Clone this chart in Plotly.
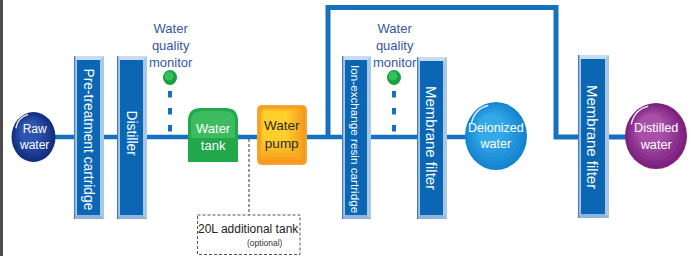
import plotly.graph_objects as go

# ---- content (labels) ----
cartridge_labels = ["Pre-treatment cartridge", "Distiller", "Ion-exchange resin cartridge",
                    "Membrane filter", "Membrane filter"]
circle_labels = ["Raw<br>water", "Deionized<br>water", "Distilled<br>water"]
monitor_label = "Water<br>quality<br>monitor"
tank_label = "Water<br>tank"
pump_label = "Water<br>pump"
extra_tank_label = "20L additional tank"
extra_tank_note = "(optional)"

# ---- layout geometry / styles (pixel coordinates) ----
W, H = 691, 256
PIPE_Y = 137
cartridge_x = [(74, 104), (117, 147), (342, 371), (417, 447), (578, 609)]
cartridge_y = [(56, 219), (56, 219), (56, 219), (57, 219), (55, 218)]
cartridge_font = [13.8, 13.8, 11.7, 15, 15]
cartridge_text_y = [139, 133, 139, 137.5, 137]
circle_geo = [(33.5, 137, 22, 25), (496, 136, 31, 34), (656, 136, 31, 33)]
circle_font = [12, 12.5, 12.7]
circle_cols = [("#132f80", "#2d55b0"), ("#1585d0", "#35a8e8"), ("#7d2080", "#a850a8")]
monitor_x = [170, 394]

PIPE = "#1670bd"
DARK = "#0b67b4"
LIGHT = "#a9c8e8"
FONT = "Arial, Liberation Sans, sans-serif"

shapes = []
annotations = []

def line(x0, y0, x1, y1, color=PIPE, width=4.5, dash=None):
    d = dict(type="line", x0=x0, y0=y0, x1=x1, y1=y1, xref="x", yref="y",
             line=dict(color=color, width=width))
    if dash:
        d["line"]["dash"] = dash
    shapes.append(d)

def rect(x0, y0, x1, y1, fill, lc=None, lw=0, dash=None):
    d = dict(type="rect", x0=x0, y0=y0, x1=x1, y1=y1, xref="x", yref="y",
             fillcolor=fill, line=dict(width=lw, color=lc or fill))
    if dash:
        d["line"]["dash"] = dash
    shapes.append(d)

def path(p, fill=None, lc=None, lw=0):
    shapes.append(dict(type="path", path=p, xref="x", yref="y",
                       fillcolor=fill or "rgba(0,0,0,0)",
                       line=dict(width=lw, color=lc or "rgba(0,0,0,0)")))

def circle(cx, cy, rx, ry, fill):
    shapes.append(dict(type="circle", x0=cx - rx, x1=cx + rx, y0=cy - ry, y1=cy + ry,
                       xref="x", yref="y", fillcolor=fill, line=dict(width=0)))

def text(x, y, t, size=12.5, color="white", angle=0, **kw):
    annotations.append(dict(x=x, y=y, xref="x", yref="y", text=t, showarrow=False,
                            textangle=angle, font=dict(family=FONT, size=size, color=color),
                            xanchor="center", yanchor="middle", **kw))

def hexmix(a, b, t):
    a = [int(a[i:i + 2], 16) for i in (1, 3, 5)]
    b = [int(b[i:i + 2], 16) for i in (1, 3, 5)]
    return "#" + "".join(f"{round(a[i] + (b[i] - a[i]) * t):02x}" for i in range(3))

def rrect(a, b, c, d, rr, fill):
    path(f"M {a + rr},{b} L {c - rr},{b} Q {c},{b} {c},{b + rr} L {c},{d - rr} Q {c},{d} {c - rr},{d} "
         f"L {a + rr},{d} Q {a},{d} {a},{d - rr} L {a},{b + rr} Q {a},{b} {a + rr},{b} Z", fill=fill)

# left edge bar
rect(0, 0, 3, H, "#4d4d4d")

# pipes
line(33, PIPE_Y, 496, PIPE_Y)
path(f"M 328,{PIPE_Y} L 328,7.5 L 556,7.5 L 556,{PIPE_Y} L 656,{PIPE_Y}", lc=PIPE, lw=5)

# monitors
for mx in monitor_x:
    line(mx, 91, mx, 134, width=4, dash="6.5px,10.5px")
    circle(mx, 77.5, 7, 7.5, "#1a9e3f")
    circle(mx - 1, 76, 4.5, 4.5, "#35c060")
    text(mx + 1, 45, monitor_label, size=13, color="#3358a8")

# cartridges (bevelled)
for (x0, x1), (y0, y1), lab, fs, ty in zip(cartridge_x, cartridge_y, cartridge_labels,
                                             cartridge_font, cartridge_text_y):
    rect(x0, y0, x1, y1, LIGHT)
    path(f"M {x0},{y0} L {x1},{y0} L {x1 - 4},{y0 + 4} L {x0 + 3},{y0 + 4} Z", fill="#c8dcf1")
    path(f"M {x0},{y1} L {x1},{y1} L {x1 - 4},{y1 - 4} L {x0 + 3},{y1 - 4} Z", fill="#8fb5de")
    rect(x0, y0, x0 + 1.2, y1, "#3f7cc2")
    rect(x0 + 3, y0 + 4, x1 - 4, y1 - 4, DARK)
    text((x0 + x1 - 1) / 2, ty, lab, size=fs, angle=90)

# water tank (rounded top)
tx0, tx1, ty0, ty1, r = 188, 238, 108, 162, 13
path(f"M {tx0},{ty1} L {tx0},{ty0 + r} Q {tx0},{ty0} {tx0 + r},{ty0} L {tx1 - r},{ty0} "
     f"Q {tx1},{ty0} {tx1},{ty0 + r} L {tx1},{ty1} Z", fill="#22a84a")
path(f"M {tx0 + 3},{ty0 + 30} L {tx0 + 3},{ty0 + r} Q {tx0 + 3},{ty0 + 3} {tx0 + r},{ty0 + 3} "
     f"L {tx1 - r},{ty0 + 3} Q {tx1 - 3},{ty0 + 3} {tx1 - 3},{ty0 + r} L {tx1 - 3},{ty0 + 30} Z",
     fill="#3dbb5f")
text(213, 137, tank_label, size=13)

# dashed link to optional tank
line(249, PIPE_Y + 2, 249, 215, color="#333333", width=1, dash="3px,2px")
rect(197.5, 215, 300, 254.5, "white", lc="#555555", lw=1, dash="3px,2px")
text(248.5, 229, extra_tank_label, size=12, color="#222222")
text(265, 242.5, extra_tank_note, size=8.5, color="#333333")

# water pump (rounded rect with pseudo-gradient)
px0, px1, py0, py1, pr = 257, 307, 105, 165, 5
rrect(px0, py0, px1, py1, pr, "#f7a637")
steps = 7
for i in range(steps):
    t = i / (steps - 1)
    col = hexmix("#f59a1d", "#ffcf2c", t)
    a, b = px0 + 1.5 + i * 0.8, py0 + 1.5 + i * 0.8
    c, d = px1 - 1.5 - i * 3.0, py1 - 1.5 - i * 3.4
    rrect(a, b, c, d, max(4.5 - i * 0.4, 2), col)
text(282, 134, pump_label, size=13.5, color="#2b2b2b")

# end-point circles with radial shading
for (cx, cy, rx, ry), (c0, c1), lab, fs in zip(circle_geo, circle_cols, circle_labels, circle_font):
    n = 7
    for i in range(n):
        t = i / (n - 1)
        s = 1 - 0.55 * t
        circle(cx - rx * 0.15 * t, cy - ry * 0.2 * t, rx * s, ry * s, hexmix(c0, c1, t))
    path(f"M {cx - rx * 0.8},{cy - ry * 0.35} Q {cx - rx * 0.7},{cy - ry * 0.8} {cx - rx * 0.25},{cy - ry * 0.9}",
         lc="rgba(255,255,255,0.85)", lw=1.5)
    text(cx, cy, lab, size=fs)

fig = go.Figure()
fig.update_layout(
    width=W, height=H, margin=dict(l=0, r=0, t=0, b=0),
    paper_bgcolor="white", plot_bgcolor="white",
    xaxis=dict(range=[0, W], visible=False, fixedrange=True),
    yaxis=dict(range=[H, 0], visible=False, fixedrange=True),
    shapes=shapes, annotations=annotations, showlegend=False,
)
fig.write_html("out.html", config={"displayModeBar": False},
               post_script="document.body.style.margin='0';document.body.style.overflow='hidden';")
